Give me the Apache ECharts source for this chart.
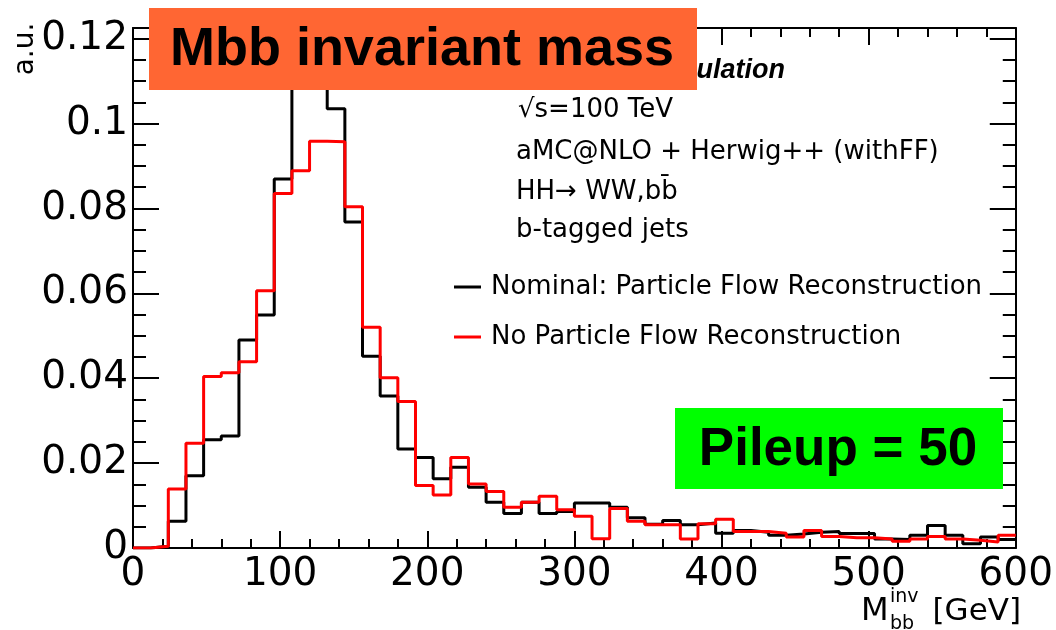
<!DOCTYPE html>
<html>
<head>
<meta charset="utf-8">
<script src="https://cdn.jsdelivr.net/npm/echarts@6/dist/echarts.min.js"></script>
<style>
html,body{margin:0;padding:0;background:#fff;}
#chart{width:1056px;height:630px;}
</style>
</head>
<body>
<div id="chart"></div>
<script>
// ---- data ----
const BIN_WIDTH = 12; // GeV
const N_BINS = 50;
const binLowEdges = Array.from({length: N_BINS}, (_, i) => i * BIN_WIDTH);
const nominalPF = [0, 0.0004, 0.0063, 0.0170, 0.0255, 0.0264, 0.0490, 0.0549, 0.0869, 0.1115,
  0.1165, 0.1035, 0.0768, 0.0452, 0.0358, 0.0233, 0.0213, 0.0163, 0.0190, 0.0143,
  0.0108, 0.0081, 0.0108, 0.0081, 0.0086, 0.0106, 0.0106, 0.0096, 0.0071, 0.0056,
  0.0065, 0.0055, 0.0059, 0.0035, 0.0041, 0.0037, 0.0030, 0.0033, 0.0037, 0.0039,
  0.0034, 0.0034, 0.0021, 0.0020, 0.0030, 0.0053, 0.0030, 0.0010, 0.0026, 0.0020];
const noPF = [0, 0.0004, 0.0139, 0.0247, 0.0404, 0.0413, 0.0439, 0.0606, 0.0835, 0.0889,
  0.0958, 0.0957, 0.0804, 0.0520, 0.0401, 0.0345, 0.0147, 0.0125, 0.0213, 0.0151,
  0.0133, 0.0096, 0.0108, 0.0122, 0.0090, 0.0075, 0.0022, 0.0093, 0.0063, 0.0055,
  0.0055, 0.0021, 0.0057, 0.0068, 0.0039, 0.0039, 0.0035, 0.0026, 0.0041, 0.0027,
  0.0024, 0.0024, 0.0021, 0.0016, 0.0021, 0.0027, 0.0021, 0.0018, 0.0014, 0.0030];
const seriesNames = ['Nominal: Particle Flow Reconstruction', 'No Particle Flow Reconstruction'];
const xTickLabels = ['0', '100', '200', '300', '400', '500', '600'];
const yTickLabels = ['0', '0.02', '0.04', '0.06', '0.08', '0.1', '0.12'];
const infoLines = ['\u221As=100 TeV', 'aMC@NLO + Herwig++ (withFF)', 'HH\u2192 WW,bb\u0304', 'b-tagged jets'];
const titleText = 'Mbb invariant mass';
const pileupText = 'Pileup = 50';

// ---- helpers ----
function histPoints(vals) {
  const pts = binLowEdges.map((x, i) => [x, vals[i]]);
  pts.push([binLowEdges[N_BINS - 1] + BIN_WIDTH, vals[N_BINS - 1]]);
  return pts;
}
const X_MAX = 600, Y_MAX = 0.1225;
const axisLineStyle = {color: '#000', width: 2};
const labelFont = {fontFamily: 'DejaVu Sans', fontSize: 39, color: '#000'};

function yMajorLabel(v) {
  const k = Math.round(v / 0.02);
  if (Math.abs(v - k * 0.02) < 1e-7 && k < yTickLabels.length) return yTickLabels[k];
  return '';
}
function xLabel(v) {
  const k = Math.round(v / 100);
  return (Math.abs(v - k * 100) < 1e-6 && k < xTickLabels.length) ? xTickLabels[k] : '';
}
function txt(x, y, text, font, align, extra) {
  return Object.assign({type: 'text', x: x, y: y, z: 50,
    style: {text: text, fill: '#000', font: font, align: align, verticalAlign: 'middle',
            textAlign: align, textVerticalAlign: 'middle'}}, extra || {});
}

const chart = echarts.init(document.getElementById('chart'), null, {renderer: 'canvas'});

chart.setOption({
  animation: false,
  backgroundColor: '#fff',
  grid: {left: 133, right: 38, top: 28, bottom: 82, containLabel: false},
  legend: {
    orient: 'vertical', left: 454, top: 272, itemGap: 20, padding: 0,
    icon: 'rect', itemWidth: 27, itemHeight: 3,
    data: seriesNames,
    textStyle: {fontFamily: 'DejaVu Sans', fontSize: 26, color: '#000', lineHeight: 30, padding: [0, 0, 0, 5]},
    selectedMode: false
  },
  xAxis: [
    {type: 'value', min: 0, max: X_MAX, interval: 100, position: 'bottom',
     axisLine: {show: true, onZero: false, lineStyle: axisLineStyle},
     axisTick: {show: true, inside: true, length: 17, lineStyle: {color: '#000', width: 2}},
     minorTick: {show: true, splitNumber: 5, length: 9, lineStyle: {color: '#000', width: 2}},
     splitLine: {show: false},
     axisLabel: Object.assign({margin: 7, formatter: xLabel}, labelFont)},
    {type: 'value', min: 0, max: X_MAX, interval: 100, position: 'top',
     axisLine: {show: true, onZero: false, lineStyle: axisLineStyle},
     axisTick: {show: true, inside: true, length: 17, lineStyle: {color: '#000', width: 2}},
     minorTick: {show: true, splitNumber: 5, length: 9, lineStyle: {color: '#000', width: 2}},
     splitLine: {show: false}, axisLabel: {show: false}}
  ],
  yAxis: [
    {type: 'value', min: 0, max: Y_MAX, interval: 0.005, position: 'left',
     axisLine: {show: true, onZero: false, lineStyle: axisLineStyle},
     axisTick: {show: true, inside: true, length: 13, lineStyle: {color: '#000', width: 2}},
     splitLine: {show: false},
     axisLabel: Object.assign({margin: 5, showMaxLabel: false, formatter: yMajorLabel}, labelFont)},
    {type: 'value', min: 0, max: Y_MAX, interval: 0.02, position: 'left',
     axisLine: {show: false, onZero: false},
     axisTick: {show: true, inside: true, length: 26, lineStyle: {color: '#000', width: 2}},
     splitLine: {show: false}, axisLabel: {show: false}},
    {type: 'value', min: 0, max: Y_MAX, interval: 0.005, position: 'right',
     axisLine: {show: true, onZero: false, lineStyle: axisLineStyle},
     axisTick: {show: true, inside: true, length: 13, lineStyle: {color: '#000', width: 2}},
     splitLine: {show: false}, axisLabel: {show: false}},
    {type: 'value', min: 0, max: Y_MAX, interval: 0.02, position: 'right',
     axisLine: {show: false, onZero: false},
     axisTick: {show: true, inside: true, length: 26, lineStyle: {color: '#000', width: 2}},
     splitLine: {show: false}, axisLabel: {show: false}}
  ],
  series: [
    {name: seriesNames[0], type: 'line', step: 'end', xAxisIndex: 0, yAxisIndex: 0,
     data: histPoints(nominalPF), showSymbol: false, symbol: 'none', color: '#000000',
     lineStyle: {color: '#000000', width: 3}, z: 3},
    {name: seriesNames[1], type: 'line', step: 'end', xAxisIndex: 0, yAxisIndex: 0,
     data: histPoints(noPF), showSymbol: false, symbol: 'none', color: '#ff0000',
     lineStyle: {color: '#ff0000', width: 3}, z: 4}
  ],
  graphic: [
    txt(785, 71, 'Simulation', 'italic bold 27px "Liberation Sans"', 'right'),
    txt(518, 110, infoLines[0], '26px "DejaVu Sans"', 'left'),
    txt(516, 152, infoLines[1], '26px "DejaVu Sans"', 'left'),
    txt(516, 192, infoLines[2], '26px "DejaVu Sans"', 'left'),
    txt(516, 230, infoLines[3], '26px "DejaVu Sans"', 'left'),
    // axis titles
    txt(26, 49, 'a.u.', '28px "DejaVu Sans"', 'center', {rotation: Math.PI / 2}),
    txt(861, 612, 'M', '32px "DejaVu Sans"', 'left'),
    txt(890, 597, 'inv', '19px "DejaVu Sans"', 'left'),
    txt(890, 624, 'bb', '19px "DejaVu Sans"', 'left'),
    txt(1021, 612, '[GeV]', '31px "DejaVu Sans"', 'right'),
    // overlay boxes
    {type: 'rect', z: 100, shape: {x: 149, y: 8, width: 548, height: 82}, style: {fill: '#FF6633'}},
    Object.assign(txt(422, 50, titleText, 'bold 54px "Liberation Sans"', 'center'), {z: 101}),
    {type: 'rect', z: 100, shape: {x: 675, y: 408, width: 328, height: 81}, style: {fill: '#00FF00'}},
    Object.assign(txt(838, 450, pileupText, 'bold 53px "Liberation Sans"', 'center'), {z: 101})
  ]
});
</script>
</body>
</html>
